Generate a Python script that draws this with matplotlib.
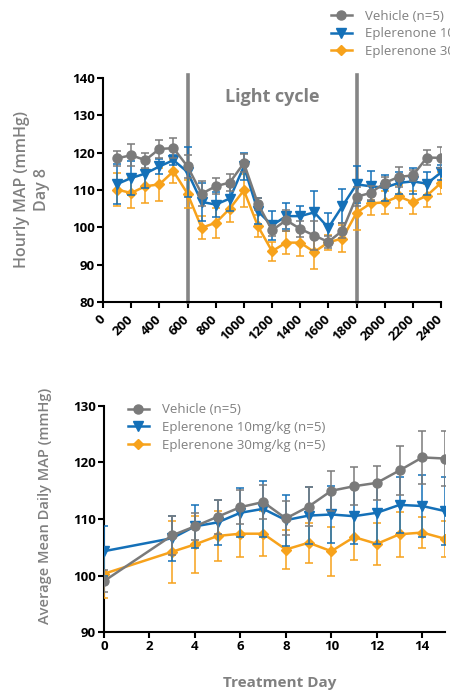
import numpy as np
import matplotlib

matplotlib.use('Agg')
import matplotlib.pyplot as plt
from matplotlib.lines import Line2D

plt.rcParams['font.family'] = ['Open Sans', 'DejaVu Sans']

# 图1：第8天每小时 MAP
hours = [100, 200, 300, 400, 500, 600, 700, 800, 900, 1000, 1100, 1200,
         1300, 1400, 1500, 1600, 1700, 1800, 1900, 2000, 2100, 2200, 2300, 2400]
veh_hr = [118.5, 119.3, 118.0, 121.0, 121.2, 116.3, 109.0, 111.0, 112.0, 117.2, 106.3, 99.2,
          101.9, 99.6, 97.8, 96.1, 99.1, 108.2, 109.2, 111.9, 113.5, 113.9, 118.7, 118.6]
veh_hr_err = [2.0, 3.0, 2.0, 2.4, 2.7, 3.2, 3.3, 2.2, 2.4, 2.5, 1.6, 1.5,
              2.8, 2.2, 4.0, 1.6, 2.0, 2.5, 2.0, 1.5, 2.7, 1.5, 2.0, 2.8]
e10_hr = [111.6, 113.2, 114.4, 116.3, 118.0, 114.8, 106.8, 106.1, 107.7, 116.3, 104.3, 100.5,
          103.0, 103.0, 104.0, 99.9, 105.7, 111.5, 111.0, 110.6, 111.9, 112.3, 111.7, 114.7]
e10_hr_err = [5.4, 4.5, 4.0, 2.0, 1.3, 6.8, 5.0, 3.3, 3.3, 3.6, 3.5, 3.8,
              3.5, 2.8, 5.8, 4.0, 4.5, 5.0, 4.0, 3.5, 3.0, 3.5, 3.0, 2.0]
e30_hr = [110.1, 109.2, 111.0, 111.5, 115.0, 109.0, 99.9, 101.2, 105.0, 109.9, 100.3, 93.6,
          95.9, 95.9, 93.4, 96.0, 97.0, 103.9, 106.4, 106.7, 108.3, 106.7, 108.5, 111.9]
e30_hr_err = [4.4, 4.0, 4.5, 4.5, 3.0, 3.8, 3.0, 4.0, 3.5, 4.5, 3.0, 2.5,
              3.0, 3.5, 4.5, 2.0, 3.5, 4.5, 3.0, 3.0, 3.0, 3.0, 3.0, 3.0]

# 图2：每日平均 MAP
days = [0, 3, 4, 5, 6, 7, 8, 9, 10, 11, 12, 13, 14, 15]
veh_day = [99.0, 107.1, 108.7, 110.4, 112.1, 113.0, 110.1, 112.2, 115.0, 115.8, 116.4, 118.6, 120.9, 120.7]
veh_day_err = [2.0, 3.5, 2.4, 3.0, 3.0, 3.0, 3.0, 3.4, 3.5, 3.4, 3.0, 4.4, 4.7, 4.8]
e10_day = [104.3, 106.6, 108.7, 109.4, 111.1, 111.8, 109.8, 110.6, 110.8, 110.5, 111.1, 112.5, 112.3, 111.4]
e10_day_err = [4.4, 4.0, 3.8, 4.0, 4.3, 5.0, 4.5, 5.0, 5.0, 5.0, 5.5, 5.0, 5.5, 6.0]
e30_day = [100.3, 104.2, 105.5, 107.0, 107.4, 107.4, 104.6, 105.8, 104.3, 106.8, 105.6, 107.3, 107.6, 106.5]
e30_day_err = [4.3, 5.5, 5.0, 4.5, 4.2, 4.0, 3.5, 3.5, 4.3, 4.0, 3.7, 4.0, 2.8, 3.2]

labels = ['Vehicle (n=5)', 'Eplerenone 10mg/kg (n=5)', 'Eplerenone 30mg/kg (n=5)']
colors = ['#7a7a7a', '#1470b8', '#f7a21b']
markers = ['o', 'v', 'D']
msizes = [6.5, 6.5, 5.0]
label_gray = '#808080'

fig = plt.figure(figsize=(4.5, 6.92), dpi=100)
ax1 = fig.add_axes([0.229, 0.5636, 0.751, 0.3237])
ax2 = fig.add_axes([0.231, 0.0867, 0.758, 0.3266])


def draw_series(ax, x, ys, errs):
    # 先画橙色，再画蓝色，灰色在最上层
    for i in [2, 1, 0]:
        ax.errorbar(x, ys[i], yerr=errs[i], color=colors[i], marker=markers[i],
                    markersize=msizes[i], linewidth=1.8, elinewidth=1.1,
                    capsize=3, capthick=1.1, zorder=3 + (2 - i))


def style_axis(ax):
    for s in ['top', 'right']:
        ax.spines[s].set_visible(False)
    for s in ['left', 'bottom']:
        ax.spines[s].set_linewidth(1.5)
    ax.tick_params(direction='out', length=4, width=1.5, labelsize=9.5, pad=2)
    for lab in ax.get_xticklabels() + ax.get_yticklabels():
        lab.set_fontweight('bold')


legend_kw = dict(frameon=False, fontsize=9.5, labelcolor=label_gray, handlelength=1.6,
                 handletextpad=1.0, labelspacing=0.35, borderaxespad=0, borderpad=0)

# 子图1
draw_series(ax1, hours, [veh_hr, e10_hr, e30_hr], [veh_hr_err, e10_hr_err, e30_hr_err])
for xv in [600, 1800]:
    ax1.axvline(xv, ymin=0, ymax=1.015, color='#858585', linewidth=2.6, clip_on=False, zorder=2)
ax1.text(1200, 134.9, 'Light cycle', ha='center', va='center', color=label_gray,
         fontsize=13, fontweight='bold')
ax1.set_xlim(0, 2400)
ax1.set_ylim(80, 140)
ax1.set_xticks(range(0, 2401, 200))
ax1.set_yticks(range(80, 141, 10))
style_axis(ax1)
plt.setp(ax1.get_xticklabels(), rotation=45, ha='right', va='center', rotation_mode='anchor')
ax1.tick_params(axis='x', pad=7)
ax1.set_ylabel('Hourly MAP (mmHg)\nDay 8', color=label_gray, fontsize=11.5,
               fontweight='semibold', linespacing=1.35)
ax1.yaxis.set_label_coords(-0.157, 0.5)

handles = [Line2D([], [], color=colors[i], marker=markers[i], markersize=msizes[i],
                  linewidth=1.8) for i in range(3)]
# 图例按原图位置放在右上角，右侧被画布截断
fig.legend(handles, labels, loc='upper left', bbox_to_anchor=(0.735, 0.986), **legend_kw)

# 子图2
draw_series(ax2, days, [veh_day, e10_day, e30_day], [veh_day_err, e10_day_err, e30_day_err])
ax2.set_xlim(0, 15)
ax2.set_ylim(90, 130)
ax2.set_xticks(range(0, 15, 2))
ax2.set_yticks(range(90, 131, 10))
style_axis(ax2)
ax2.set_xlabel('Treatment Day', color=label_gray, fontsize=11, fontweight='bold')
ax2.xaxis.set_label_coords(0.516, -0.195)
ax2.set_ylabel('Average Mean Daily MAP (mmHg)', color=label_gray, fontsize=10.5,
               fontweight='semibold')
ax2.yaxis.set_label_coords(-0.152, 0.56)
ax2.legend(handles, labels, loc='upper left', bbox_to_anchor=(0.07, 1.012), **legend_kw)

plt.savefig('out.png', dpi=100)
plt.close()
